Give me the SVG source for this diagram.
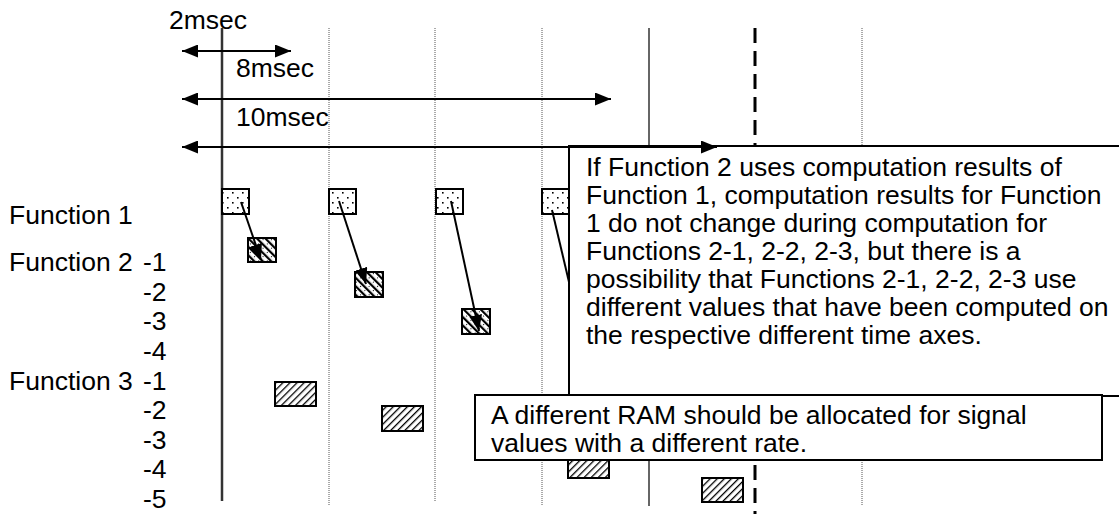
<svg xmlns="http://www.w3.org/2000/svg" width="1119" height="514" viewBox="0 0 1119 514">
<style>
text{font-family:"Liberation Sans",Arial,sans-serif;font-size:26.5px;fill:#000}
.dot{stroke:#555;stroke-width:1;stroke-dasharray:1 1;fill:none}
.box{stroke:#000;stroke-width:2}
.conn{stroke:#000;stroke-width:2;fill:none}
.callout{fill:#fff;stroke:#000;stroke-width:2}
</style>
<defs>
<pattern id="pDots" width="10" height="10" patternUnits="userSpaceOnUse">
<rect width="10" height="10" fill="#fff"/>
<rect x="2" y="2" width="1.6" height="1.6" fill="#000"/>
<rect x="7" y="7" width="1.6" height="1.6" fill="#000"/>
</pattern>
<pattern id="pBack" width="6" height="6" patternUnits="userSpaceOnUse" patternTransform="rotate(-45)">
<rect width="6" height="6" fill="#fff"/>
<rect x="0" y="0" width="2.2" height="6" fill="#000"/>
<rect x="4" y="1" width="1" height="1" fill="#000"/>
</pattern>
<pattern id="pFwd" width="5" height="5" patternUnits="userSpaceOnUse" patternTransform="rotate(45)">
<rect width="5" height="5" fill="#fff"/>
<rect x="0" y="0" width="1.3" height="5" fill="#000"/>
</pattern>
<marker id="ah" markerUnits="userSpaceOnUse" markerWidth="16" markerHeight="13" refX="16" refY="6.5" orient="auto-start-reverse">
<path d="M0,0 L16,6.5 L0,13 Z" fill="#000"/>
</marker>
</defs>

<g id="axes">
<line x1="222" y1="28" x2="222" y2="501" stroke="#333" stroke-width="2.5"/>
<line class="dot" x1="329" y1="28" x2="329" y2="505"/>
<line class="dot" x1="435" y1="28" x2="435" y2="501"/>
<line class="dot" x1="542" y1="28" x2="542" y2="505"/>
<line x1="649" y1="28" x2="649" y2="506" stroke="#333" stroke-width="1.5"/>
<line x1="755" y1="28" x2="755" y2="514" stroke="#000" stroke-width="3" stroke-dasharray="15 8"/>
<line class="dot" x1="862" y1="28" x2="862" y2="505"/>
</g>

<g id="time-labels">
<text x="169" y="29">2msec</text>
<text x="236" y="77">8msec</text>
<text x="236" y="126">10msec</text>
</g>

<g id="row-labels">
<text x="9" y="224">Function 1</text>
<text x="9" y="271">Function 2</text>
<text x="143" y="271">-1</text>
<text x="143" y="301">-2</text>
<text x="143" y="330">-3</text>
<text x="143" y="360">-4</text>
<text x="9" y="390">Function 3</text>
<text x="143" y="390">-1</text>
<text x="143" y="419">-2</text>
<text x="143" y="449">-3</text>
<text x="143" y="478">-4</text>
<text x="143" y="508">-5</text>
</g>

<g id="function1">
<rect class="box" x="222" y="189" width="27" height="25" fill="url(#pDots)"/>
<rect class="box" x="329" y="189" width="27" height="25" fill="url(#pDots)"/>
<rect class="box" x="436" y="189" width="27" height="25" fill="url(#pDots)"/>
<rect class="box" x="542" y="189" width="27" height="25" fill="url(#pDots)"/>
</g>

<g id="function2">
<rect class="box" x="248" y="238" width="28" height="24" fill="url(#pBack)"/>
<rect class="box" x="355" y="272" width="28" height="25" fill="url(#pBack)"/>
<rect class="box" x="462" y="309" width="28" height="25" fill="url(#pBack)"/>
</g>

<g id="function3">
<rect class="box" x="275" y="382" width="41" height="24" fill="url(#pFwd)"/>
<rect class="box" x="382" y="406" width="41" height="25" fill="url(#pFwd)"/>
<rect class="box" x="568" y="454" width="41" height="24" fill="url(#pFwd)"/>
<rect class="box" x="702" y="478" width="41" height="24" fill="url(#pFwd)"/>
</g>

<g id="callout-main">
<rect class="callout" x="569" y="146" width="560" height="250"/>
<text x="586" y="176">If Function 2 uses computation results of</text>
<text x="586" y="204">Function 1, computation results for Function</text>
<text x="586" y="232">1 do not change during computation for</text>
<text x="586" y="260">Functions 2-1, 2-2, 2-3, but there is a</text>
<text x="586" y="288">possibility that Functions 2-1, 2-2, 2-3 use</text>
<text x="586" y="316">different values that have been computed on</text>
<text x="586" y="344">the respective different time axes.</text>
</g>

<g id="callout-ram">
<rect class="callout" x="475" y="395" width="627" height="65"/>
<text x="491" y="424">A different RAM should be allocated for signal</text>
<text x="491" y="452">values with a different rate.</text>
</g>

<g id="connectors">
<line class="conn" x1="182" y1="51" x2="291" y2="51" marker-start="url(#ah)" marker-end="url(#ah)"/>
<line class="conn" x1="182" y1="99" x2="611" y2="99" marker-start="url(#ah)" marker-end="url(#ah)"/>
<line class="conn" x1="182" y1="147" x2="717" y2="147" marker-start="url(#ah)" marker-end="url(#ah)"/>
<line class="conn" x1="241" y1="202" x2="261" y2="260" marker-end="url(#ah)"/>
<line class="conn" x1="339" y1="201" x2="366" y2="284" marker-end="url(#ah)"/>
<line class="conn" x1="451" y1="201" x2="479" y2="331" marker-end="url(#ah)"/>
<line class="conn" x1="552" y1="210" x2="569" y2="282"/>
</g>
</svg>
